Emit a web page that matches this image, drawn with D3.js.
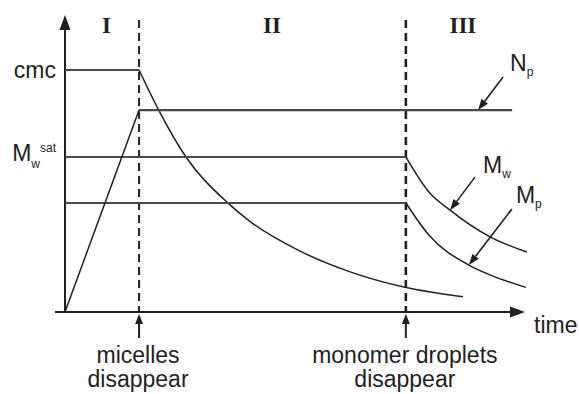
<!DOCTYPE html>
<html>
<head>
<meta charset="utf-8">
<script src="https://cdn.jsdelivr.net/npm/d3@7"></script>
<style>
  html, body { margin: 0; padding: 0; background: #fff; }
  svg { display: block; font-family: "Liberation Sans", Arial, sans-serif; }
</style>
</head>
<body>
<div id="chart"></div>
<script>
// Time runs 0..100 and concentration 0..100 (arbitrary units)
const phaseNames = ["I", "II", "III"];
const phaseCenters = [9, 45, 86.5];

const eventTimes = [16.1, 74.1];
const eventLabels = [["micelles", "disappear"], ["monomer droplets", "disappear"]];

const yTickValues = [81.5, 52.2];
const yTickLabels = ["cmc", "M"];
const yTickSubs = ["", "w"];
const yTickSups = ["", "sat"];

// free emulsifier: flat at cmc in interval I, then decays
const emulsifierT = [0, 16.1, 20.2, 26.3, 35.2, 40.2, 51.1, 62.0, 73.9, 86.5];
const emulsifierC = [81.5, 81.5, 68.5, 52.2, 37.0, 30.5, 20.5, 13.5, 8.3, 5.1];

// number of particles
const npT = [0, 16.1, 97.2];
const npC = [0, 68.0, 68.0];

// monomer concentration in water
const mwT = [0, 74.1, 79.1, 83.7, 92.4, 100.4];
const mwC = [52.2, 52.2, 40.4, 34.3, 25.3, 20.2];

// monomer concentration in particles
const mpT = [0, 74.1, 79.1, 87.8, 92.4, 100.2];
const mpC = [36.7, 36.7, 25.9, 15.8, 12.5, 8.3];

// series labels: name, subscript, time where the arrow points
const seriesNames = ["N", "M", "M"];
const seriesSubs = ["p", "w", "p"];
const seriesArrowAt = [89.8, 83.7, 87.8];

const width = 579, height = 394;
const ink = "#231f20";
const lineGray = "#4a4a4a";

const svg = d3.select("#chart")
    .append("svg")
    .attr("width", width)
    .attr("height", height);

const x = d3.scaleLinear().domain([0, 100]).range([65, 525]);
const y = d3.scaleLinear().domain([0, 100]).range([312, 15]);

// axes with arrow heads
svg.append("line")
    .attr("x1", x(0)).attr("x2", x(0))
    .attr("y1", y(0) + 1).attr("y2", y(100) + 12)
    .attr("stroke", ink).attr("stroke-width", 2);
svg.append("path")
    .attr("d", `M${x(0)},${y(100)}L${x(0) - 5.5},${y(100) + 15}L${x(0) + 5.5},${y(100) + 15}Z`)
    .attr("fill", ink);

svg.append("line")
    .attr("x1", x(0) - 10).attr("x2", x(100) - 12)
    .attr("y1", y(0)).attr("y2", y(0))
    .attr("stroke", ink).attr("stroke-width", 2);
svg.append("path")
    .attr("d", `M${x(100)},${y(0)}L${x(100) - 15},${y(0) - 5.5}L${x(100) - 15},${y(0) + 5.5}Z`)
    .attr("fill", ink);

svg.append("text")
    .attr("x", x(100) + 9)
    .attr("y", y(0) + 21)
    .attr("fill", ink)
    .style("font-size", "23px")
    .text("time");

// y tick labels (cmc, Mw sat)
const yAxis = d3.axisLeft(y)
    .tickValues(yTickValues)
    .tickSize(0)
    .tickPadding(9)
    .tickFormat((d, i) => yTickLabels[i]);

const yg = svg.append("g")
    .attr("transform", `translate(${x(0)},0)`)
    .call(yAxis);
yg.select(".domain").remove();
yg.selectAll(".tick text")
    .attr("fill", ink)
    .style("font-size", "23px")
    .style("font-family", "'Liberation Sans', Arial, sans-serif")
    .each(function (d, i) {
        if (!yTickSubs[i]) return;
        const t = d3.select(this).attr("dy", "0.17em");
        t.append("tspan").attr("dy", 7).style("font-size", "12px").text(yTickSubs[i]);
        t.append("tspan").attr("dy", -16).style("font-size", "12px").text(yTickSups[i]);
    });

// phase boundaries
eventTimes.forEach((t, i) => {
    svg.append("line")
        .attr("x1", x(t)).attr("x2", x(t))
        .attr("y1", 20).attr("y2", y(0))
        .attr("stroke", ink)
        .attr("stroke-width", i === 0 ? 2 : 2.6)
        .attr("stroke-dasharray", "8,5");

    // event arrow under the axis
    svg.append("line")
        .attr("x1", x(t)).attr("x2", x(t))
        .attr("y1", y(0) + 26).attr("y2", y(0) + 10)
        .attr("stroke", ink).attr("stroke-width", 2);
    svg.append("path")
        .attr("d", `M${x(t)},${y(0) + 2}L${x(t) - 4},${y(0) + 12}L${x(t) + 4},${y(0) + 12}Z`)
        .attr("fill", ink);

    const lbl = svg.append("text")
        .attr("text-anchor", "middle")
        .attr("fill", ink)
        .style("font-size", "23px");
    eventLabels[i].forEach((s, k) => {
        lbl.append("tspan")
            .attr("x", x(t) - 1)
            .attr("y", 363 + k * 24)
            .text(s);
    });
});

// phase names
svg.selectAll(".phase")
    .data(phaseNames)
    .join("text")
    .attr("class", "phase")
    .attr("x", (d, i) => x(phaseCenters[i]))
    .attr("y", 33)
    .attr("text-anchor", "middle")
    .attr("fill", ink)
    .style("font-family", "'Liberation Serif', 'Times New Roman', serif")
    .style("font-weight", "bold")
    .style("font-size", "23px")
    .text(d => d);

// curves: straight part up to the knee, then smooth decay
const straight = d3.line().x(d => x(d[0])).y(d => y(d[1]));
const smooth = d3.line().x(d => x(d[0])).y(d => y(d[1])).curve(d3.curveMonotoneX);

function drawSeries(ts, cs, knee, flatWidth) {
    const pts = ts.map((t, i) => [t, cs[i]]);
    svg.append("path")
        .datum(pts.slice(0, knee + 1))
        .attr("fill", "none")
        .attr("stroke", lineGray)
        .attr("stroke-width", flatWidth)
        .attr("d", straight);
    if (knee < pts.length - 1) {
        svg.append("path")
            .datum(pts.slice(knee))
            .attr("fill", "none")
            .attr("stroke", ink)
            .attr("stroke-width", 1.5)
            .attr("d", smooth);
    }
}

drawSeries(emulsifierT, emulsifierC, 1, 2);
drawSeries(mwT, mwC, 1, 2);
drawSeries(mpT, mpC, 1, 2);

// particle number: linear rise, then constant
svg.append("path")
    .datum(npT.map((t, i) => [t, npC[i]]).slice(0, 2))
    .attr("fill", "none")
    .attr("stroke", ink)
    .attr("stroke-width", 1.5)
    .attr("d", straight);
svg.append("path")
    .datum(npT.map((t, i) => [t, npC[i]]).slice(1))
    .attr("fill", "none")
    .attr("stroke", lineGray)
    .attr("stroke-width", 2.2)
    .attr("d", straight);

// series labels with pointer arrows
const seriesCurves = [[npT, npC], [mwT, mwC], [mpT, mpC]];
const arrowTail = [[25, -33], [25, -33], [43, -56]];
const labelOffset = [[7, -6], [8, -4], [4, -6]];

function valueAt(ts, cs, t) {
    for (let i = 1; i < ts.length; i++) {
        if (t <= ts[i]) {
            const f = (t - ts[i - 1]) / (ts[i] - ts[i - 1]);
            return cs[i - 1] + f * (cs[i] - cs[i - 1]);
        }
    }
    return cs[cs.length - 1];
}

seriesNames.forEach((name, i) => {
    const [ts, cs] = seriesCurves[i];
    const tx = x(seriesArrowAt[i]);
    const ty = y(valueAt(ts, cs, seriesArrowAt[i]));
    const sx = tx + arrowTail[i][0];
    const sy = ty + arrowTail[i][1];
    const ang = Math.atan2(ty - sy, tx - sx);
    const hl = 11, hw = 4;
    const bx = tx - hl * Math.cos(ang), by = ty - hl * Math.sin(ang);

    svg.append("line")
        .attr("x1", sx).attr("y1", sy)
        .attr("x2", bx).attr("y2", by)
        .attr("stroke", ink).attr("stroke-width", 1.6);
    svg.append("path")
        .attr("d", `M${tx},${ty}L${bx + hw * Math.sin(ang)},${by - hw * Math.cos(ang)}L${bx - hw * Math.sin(ang)},${by + hw * Math.cos(ang)}Z`)
        .attr("fill", ink);

    const lbl = svg.append("text")
        .attr("x", sx + labelOffset[i][0])
        .attr("y", sy + labelOffset[i][1])
        .attr("fill", ink)
        .style("font-size", "23px")
        .text(name);
    lbl.append("tspan")
        .attr("dy", 5)
        .style("font-size", "12px")
        .text(seriesSubs[i]);
});
</script>
</body>
</html>
